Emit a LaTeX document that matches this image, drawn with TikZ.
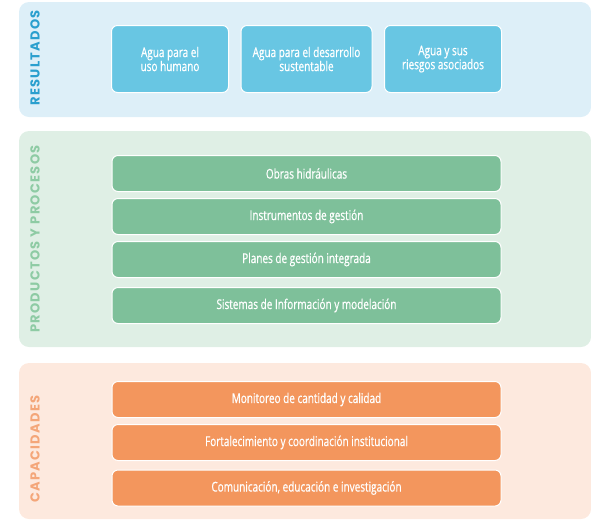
\documentclass[tikz,border=0pt]{standalone}
\usepackage{fontspec}
\setmainfont{Open Sans}
\newfontfamily\itemfont{Open Sans}[FakeStretch=0.74,FakeBold=0.7]
\newfontfamily\lblfont{Poppins}[LetterSpace=10]
\definecolor{bluebg}{HTML}{DDEFF8}
\definecolor{bluebox}{HTML}{68C6E3}
\definecolor{bluelbl}{HTML}{2A9FCE}
\definecolor{greenbg}{HTML}{DFEFE5}
\definecolor{greenbox}{HTML}{7EC09A}
\definecolor{greenlbl}{HTML}{8ECBA4}
\definecolor{orangebg}{HTML}{FDE9DE}
\definecolor{orangebox}{HTML}{F3965D}
\definecolor{orangelbl}{HTML}{F4A679}
\begin{document}
\begin{tikzpicture}[x=1pt,y=-1pt,
  panel/.style={rounded corners=10pt},
  itembox/.style={draw=white,line width=1pt,rounded corners=6pt,text=white,font=\itemfont\fontsize{13.5}{14}\selectfont,align=center,inner sep=0pt},
  sidelbl/.style={rotate=90,font=\lblfont\bfseries\fontsize{13}{14}\selectfont,inner sep=0pt}]
\useasboundingbox (0,0) rectangle (591,520);
% panels
\fill[bluebg,panel] (19,2) rectangle (591,117);
\fill[greenbg,panel] (19,131) rectangle (591,347);
\fill[orangebg,panel] (19,363) rectangle (591,519);
% labels
\node[sidelbl,text=bluelbl] (lres) at (35,58) {RESULTADOS};
\node[sidelbl,text=greenlbl] (lprod) at (35,239) {PRODUCTOS Y PROCESOS};
\node[sidelbl,text=orangelbl] (lcap) at (35,449) {CAPACIDADES};
% resultados
\node[itembox,fill=bluebox,minimum width=117pt,minimum height=67pt] (r1) at (170,59) {Agua para el\\uso humano};
\node[itembox,fill=bluebox,minimum width=131pt,minimum height=67pt] (r2) at (306.5,59) {Agua para el desarrollo\\sustentable};
\node[itembox,fill=bluebox,minimum width=117pt,minimum height=67pt] (r3) at (443,59) {Agua y sus\\riesgos asociados};
% productos
\node[itembox,fill=greenbox,minimum width=389pt,minimum height=36pt] (p1) at (306.5,173.5) {Obras hidráulicas};
\node[itembox,fill=greenbox,minimum width=389pt,minimum height=36pt] (p2) at (306.5,216.5) {Instrumentos de gestión};
\node[itembox,fill=greenbox,minimum width=389pt,minimum height=36pt] (p3) at (306.5,259.5) {Planes de gestión integrada};
\node[itembox,fill=greenbox,minimum width=389pt,minimum height=36pt] (p4) at (306.5,305.5) {Sistemas de Información y modelación};
% capacidades
\node[itembox,fill=orangebox,minimum width=389pt,minimum height=36pt] (c1) at (306.5,399.5) {Monitoreo de cantidad y calidad};
\node[itembox,fill=orangebox,minimum width=389pt,minimum height=36pt] (c2) at (306.5,442.5) {Fortalecimiento y coordinación institucional};
\node[itembox,fill=orangebox,minimum width=389pt,minimum height=36pt] (c3) at (306.5,488) {Comunicación, educación e investigación};
\end{tikzpicture}
\end{document}
